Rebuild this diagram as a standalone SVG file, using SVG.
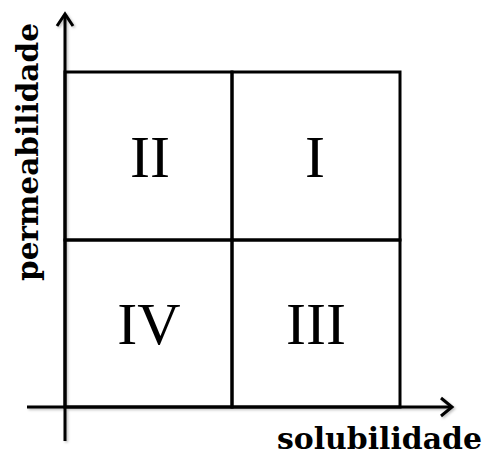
<svg xmlns="http://www.w3.org/2000/svg" width="486" height="457" viewBox="0 0 486 457">
<style>
.cell{fill:none;stroke:#000;stroke-width:3}
.ax{fill:none;stroke:#000;stroke-width:3;stroke-linecap:butt}
.num{font-family:"Liberation Serif","Times New Roman",serif;font-size:60px;fill:#000;text-anchor:middle}
.lbl{font-family:"DejaVu Serif",serif;font-weight:bold;font-size:30px;fill:#000}
</style>
<defs>
<filter id="sh" x="-10%" y="-10%" width="120%" height="120%">
<feDropShadow dx="1.5" dy="1.5" stdDeviation="1" flood-color="#000" flood-opacity="0.25"/>
</filter>
</defs>
<g id="cell-II"><rect class="cell" x="65" y="72" width="167" height="168"/><text class="num" x="150" y="177">II</text></g>
<g id="cell-I"><rect class="cell" x="232" y="72" width="168" height="168"/><text class="num" x="315" y="177">I</text></g>
<g id="cell-IV"><rect class="cell" x="65" y="240" width="167" height="167"/><text class="num" x="149" y="344">IV</text></g>
<g id="cell-III"><rect class="cell" x="232" y="240" width="168" height="167"/><text class="num" x="316" y="344">III</text></g>
<g id="connectors" filter="url(#sh)">
<path class="ax" d="M65 441 L65 15"/>
<path class="ax" d="M57 26 L65 14 L73 26"/>
<path class="ax" d="M27 407 L451 407"/>
<path class="ax" d="M441 398 L452 407 L441 416"/>
</g>
<g id="label-x"><text class="lbl" x="277" y="449" textLength="205" lengthAdjust="spacingAndGlyphs">solubilidade</text></g>
<g id="label-y"><text class="lbl" transform="translate(38,281) rotate(-90)" x="0" y="0" textLength="258" lengthAdjust="spacingAndGlyphs">permeabilidade</text></g>
</svg>
